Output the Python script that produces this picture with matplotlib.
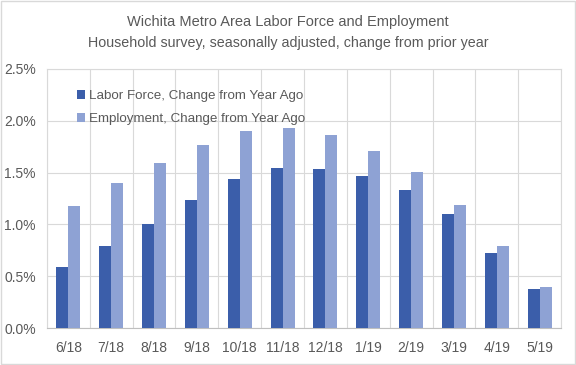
import numpy as np
import matplotlib
matplotlib.use("Agg")
import matplotlib.pyplot as plt
from matplotlib.patches import Rectangle
from matplotlib.ticker import FuncFormatter

months = ["6/18", "7/18", "8/18", "9/18", "10/18", "11/18",
          "12/18", "1/19", "2/19", "3/19", "4/19", "5/19"]
labor_force = [0.59, 0.79, 1.00, 1.24, 1.44, 1.54, 1.53, 1.47, 1.33, 1.10, 0.72, 0.38]
employment = [1.18, 1.40, 1.59, 1.77, 1.90, 1.93, 1.86, 1.71, 1.51, 1.19, 0.79, 0.40]

plt.rcParams["font.family"] = ["Liberation Sans", "DejaVu Sans"]
text_col = "#595959"
grid_col = "#D9D9D9"

fig = plt.figure(figsize=(5.76, 3.65), dpi=100)
ax = fig.add_axes([47 / 576, 1 - 328 / 365, (561 - 47) / 576, (328 - 69) / 365])

x = np.arange(len(months))
w = 0.28
ax.bar(x - w / 2, labor_force, w, color="#3B5EAA", label="Labor Force, Change from Year Ago", zorder=3)
ax.bar(x + w / 2, employment, w, color="#8EA2D4", label="Employment, Change from Year Ago", zorder=3)

ax.set_xlim(-0.5, len(months) - 0.5)
ax.set_ylim(0, 2.5)
ax.set_yticks(np.arange(0, 2.51, 0.5))
ax.yaxis.set_major_formatter(FuncFormatter(lambda v, p: f"{v:.1f}%"))
ax.set_xticks(x)
ax.set_xticklabels(months)
ax.set_xticks(np.arange(-0.5, len(months)), minor=True)

ax.grid(axis="y", which="major", color=grid_col, lw=0.8, zorder=0)
ax.grid(axis="x", which="minor", color=grid_col, lw=0.8, zorder=0)
ax.tick_params(which="both", length=0, labelsize=10, colors=text_col)
ax.tick_params(axis="x", pad=9)
ax.tick_params(axis="y", pad=8)
for s in ["top", "right", "left"]:
    ax.spines[s].set_color(grid_col)
ax.spines["bottom"].set_color("#BFBFBF")

leg = ax.legend(loc="upper left", bbox_to_anchor=(0.035, 0.965), frameon=False,
                fontsize=9.6, handlelength=0.6, handleheight=0.6,
                handletextpad=0.3, labelspacing=0.85, borderaxespad=0.5)
for t in leg.get_texts():
    t.set_color(text_col)

fig.text(0.5, 1 - 22 / 365, "Wichita Metro Area Labor Force and Employment",
         ha="center", va="center", fontsize=10.5, color=text_col)
fig.text(0.5, 1 - 43 / 365, "Household survey, seasonally adjusted, change from prior year",
         ha="center", va="center", fontsize=10.3, color=text_col)

fig.patches.append(Rectangle((0.002, 0.003), 0.996, 0.994, transform=fig.transFigure,
                             fill=False, edgecolor=grid_col, lw=1))

fig.savefig("out.png", dpi=100)
